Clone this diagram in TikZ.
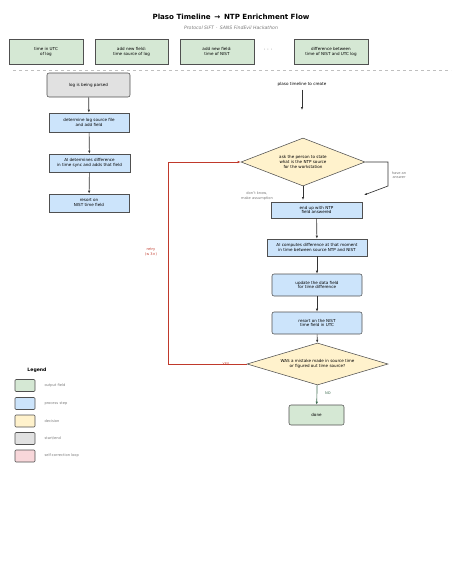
\documentclass[tikz,border=0pt]{standalone}
\usepackage{fontspec}
\setmainfont{DejaVu Sans}
\usetikzlibrary{shapes.geometric,arrows.meta}
\definecolor{outfill}{HTML}{D5E8D4}
\definecolor{procfill}{HTML}{CCE4FB}
\definecolor{decfill}{HTML}{FFF2CC}
\definecolor{startfill}{HTML}{E1E1E1}
\definecolor{loopfill}{HTML}{F8D7DA}
\definecolor{boxline}{HTML}{505050}
\definecolor{loopred}{HTML}{C0392B}
\definecolor{notegray}{HTML}{777777}
\definecolor{nogreen}{HTML}{3E6B50}
\begin{document}
\begin{tikzpicture}[x=1pt,y=-1pt,font=\fontsize{4.1}{4.9}\selectfont,
  box/.style={draw=boxline,line width=.55pt,inner sep=0pt,align=center},
  outbox/.style={box,fill=outfill},
  procbox/.style={box,fill=procfill},
  startbox/.style={box,fill=startfill},
  decbox/.style={box,diamond,fill=decfill},
  keybox/.style={box,minimum width=20,minimum height=12,rounded corners=1pt},
  note/.style={text=notegray,align=center,font=\fontsize{3.6}{4.3}\selectfont},
  flow/.style={-{Latex[length=3pt,width=2.4pt]},line width=.65pt,draw=black!80}]
\useasboundingbox (0,0) rectangle (463,573);

\node[font=\bfseries\fontsize{7.1}{8.5}\selectfont] (title) at (231,17) {Plaso Timeline \,→\, NTP Enrichment Flow};
\node[font=\itshape\fontsize{4.6}{5.5}\selectfont,text=notegray] (subtitle) at (231,28) {Protocol SIFT \,·\, SANS FindEvil Hackathon};

% output fields
\node[outbox,minimum width=74,minimum height=25] (utc) at (46,51.5) {time in UTC\\of log};
\node[outbox,minimum width=73,minimum height=25] (srcfield) at (131.5,51.5) {add new field:\\time source of log};
\node[outbox,minimum width=74,minimum height=25] (nistfield) at (217,51.5) {add new field:\\time of NIST};
\node[text=notegray,font=\fontsize{5.5}{6}\selectfont] (dots) at (268,50) {· · ·};
\node[outbox,minimum width=74,minimum height=25] (difffield) at (331,51.5) {difference between\\time of NIST and UTC log};

\draw[dashed,gray!50,line width=.4pt] (13,70) -- (451,70);

% left column
\node[startbox,rounded corners=2pt,minimum width=83,minimum height=24] (parsed) at (88.5,85) {log is being parsed};
\node[procbox,minimum width=80,minimum height=19] (source) at (89,122.5) {determine log source file\\and add field};
\node[procbox,minimum width=81,minimum height=18] (aisync) at (89.5,163) {AI determines difference\\in time sync and adds that field};
\node[procbox,minimum width=80,minimum height=18] (resort) at (89,203) {resort on\\NIST time field};

\draw[flow] (parsed) -- (source);
\draw[flow] (source) -- (aisync);
\draw[flow] (aisync) -- (resort);

% right column
\node (plaso) at (302,84) {plaso timeline to create};
\coordinate (plasoend) at (302,110);
\node[decbox,aspect=2.6,minimum width=124,minimum height=48] (ask) at (303,162) {ask the person to state\\what is the NTP source\\for the workstation};
\node[procbox,minimum width=91,minimum height=16] (ntp) at (316.5,210) {end up with NTP\\field answered};
\node[procbox,minimum width=100,minimum height=17] (aicomp) at (317,247.5) {AI computes difference at that moment\\in time between source NTP and NIST};
\node[procbox,rounded corners=2pt,minimum width=90,minimum height=22] (update) at (317,285) {update the data field\\for time difference};
\node[procbox,rounded corners=2pt,minimum width=90,minimum height=22] (nistutc) at (317,323) {resort on the NIST\\time field in UTC};
\node[decbox,aspect=3.4,minimum width=141,minimum height=42] (mistake) at (317.5,364) {WAS a mistake made in source time\\or figured out time source?};
\node[outbox,rounded corners=2pt,minimum width=55,minimum height=20] (done) at (316.5,415) {done};

\coordinate (askout) at (388,162);
\coordinate (askdown) at (388,186);
\coordinate (answerend) at (364,195);
\coordinate (askbot) at (303,200);
\coordinate (loopbot) at (168,364);
\coordinate (looptop) at (168,162);

\draw[flow] (plaso) -- (plasoend);
\draw[flow] (ask.south) -- (askbot);
\draw[flow] (ask.east) -- (askout) -- (askdown) -- (answerend);
\draw[flow] (ntp) -- (aicomp);
\draw[flow] (aicomp) -- (update);
\draw[flow] (update) -- (nistutc);
\draw[flow] (nistutc) -- (mistake);
\draw[flow,draw=nogreen] (mistake) -- (done);
\draw[flow,draw=loopred,line width=.7pt] (mistake.west) -- (loopbot) -- (looptop) -- (ask.west);

\node[note] (answer) at (399,175) {have an\\answer};
\node[note] (dontknow) at (257,196) {don't know,\\make assumption};
\node[note,text=nogreen] (no) at (328,393) {NO};
\node[note,text=loopred] (yes) at (226,364) {YES};
\node[note,text=loopred] (retry) at (151,252) {retry\\(≤ 3×)};

% legend
\node[font=\bfseries\fontsize{4.6}{5.5}\selectfont] (legend) at (37,370) {Legend};
\node[keybox,fill=outfill] (k1) at (25,385.5) {};
\node[keybox,fill=procfill] (k2) at (25,403.5) {};
\node[keybox,fill=decfill] (k3) at (25,421) {};
\node[keybox,fill=startfill] (k4) at (25,438.5) {};
\node[keybox,fill=loopfill] (k5) at (25,456) {};
\node[note,anchor=west] at (41,385.5) {output field};
\node[note,anchor=west] at (41,403.5) {process step};
\node[note,anchor=west] at (41,421) {decision};
\node[note,anchor=west] at (41,438.5) {start/end};
\node[note,anchor=west] at (41,456) {self-correction loop};
\end{tikzpicture}
\end{document}
